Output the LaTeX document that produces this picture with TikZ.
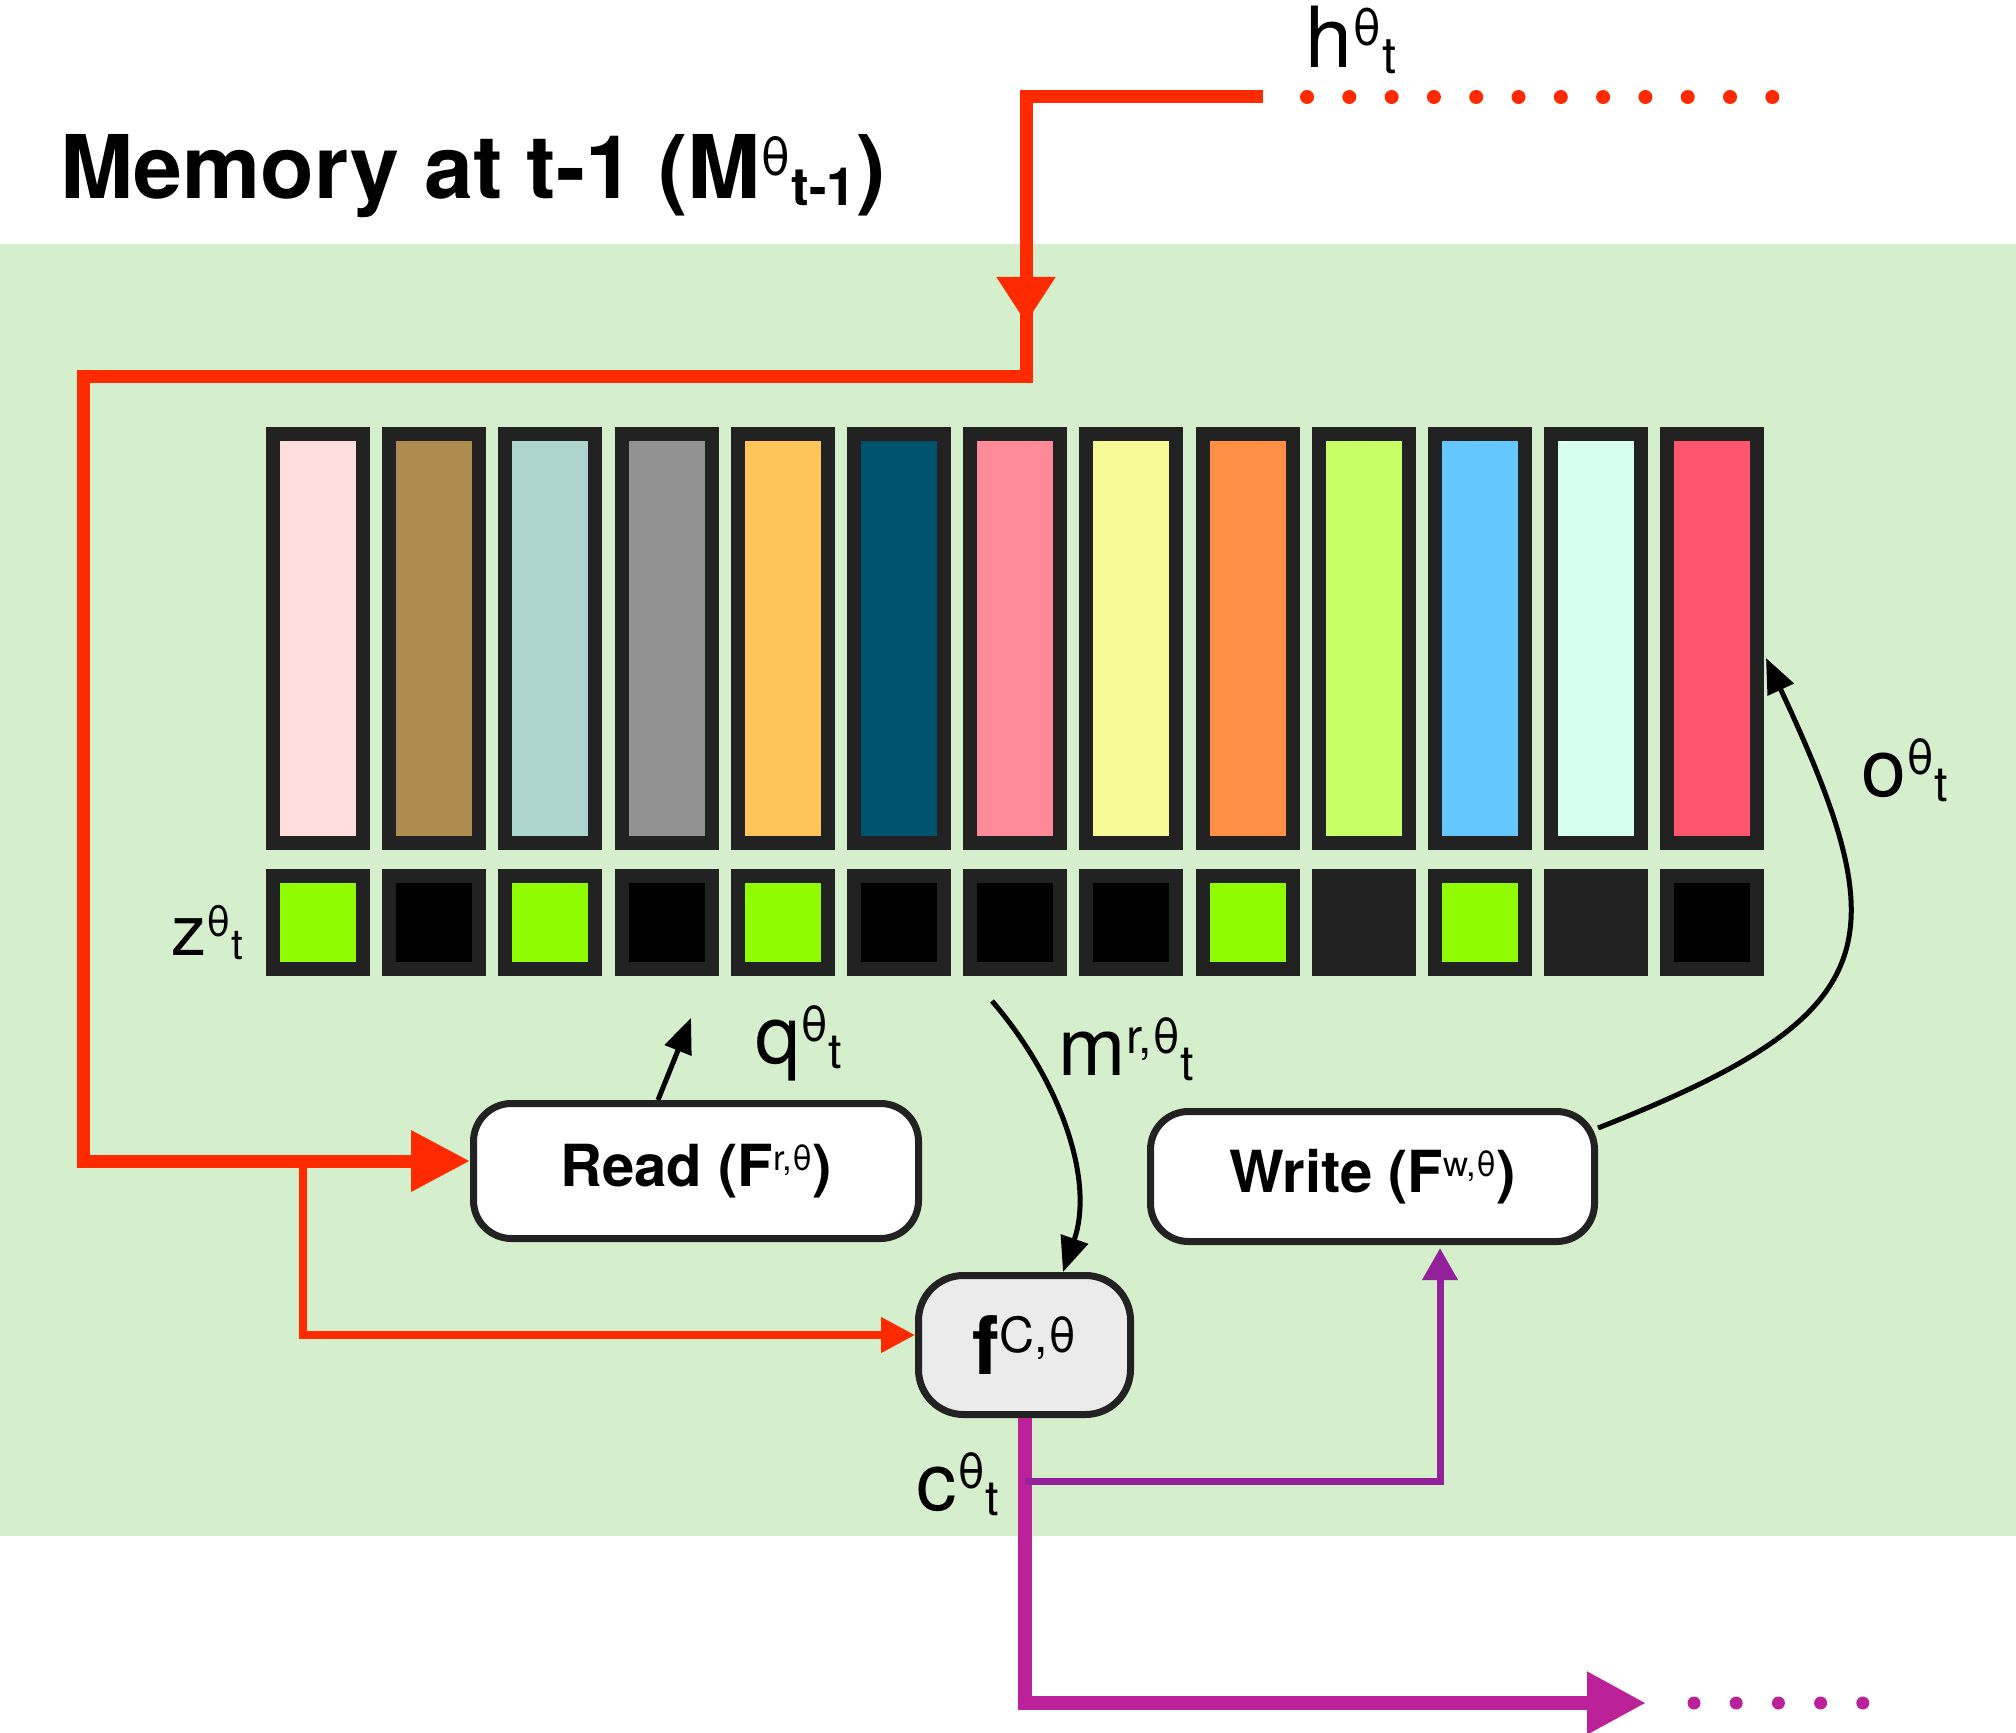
\documentclass[tikz,border=0pt]{standalone}
\usepackage{fontspec}
\setmainfont{TeX Gyre Heros}
\usetikzlibrary{arrows.meta}
\definecolor{bgmem}{HTML}{D5EFCC}
\definecolor{edge}{HTML}{222222}
\definecolor{redline}{HTML}{FF2A00}
\definecolor{purplethick}{HTML}{BB2299}
\definecolor{purplethin}{HTML}{93229A}
\definecolor{gateon}{HTML}{8FFC00}
\definecolor{fcgray}{HTML}{EBEBEB}
\definecolor{slotA}{HTML}{FFDDDD}
\definecolor{slotB}{HTML}{AE8C50}
\definecolor{slotC}{HTML}{ADD5CD}
\definecolor{slotD}{HTML}{929292}
\definecolor{slotE}{HTML}{FFC55A}
\definecolor{slotF}{HTML}{00536C}
\definecolor{slotG}{HTML}{FF8A97}
\definecolor{slotH}{HTML}{F7F994}
\definecolor{slotI}{HTML}{FF8F44}
\definecolor{slotJ}{HTML}{C7FF66}
\definecolor{slotK}{HTML}{66C7FF}
\definecolor{slotL}{HTML}{D6FFEE}
\definecolor{slotM}{HTML}{FF566E}
\newcommand{\sps}[1]{\raisebox{0.27em}{\scalebox{0.6}{#1}}}
\newcommand{\sbs}[1]{\raisebox{-0.07em}{\scalebox{0.6}{#1}}}
\begin{document}
\begin{tikzpicture}[
  slot/.style={draw=edge, line width=0.14cm, minimum width=0.9cm, minimum height=4.09cm, inner sep=0pt},
  gate/.style={draw=edge, line width=0.14cm, minimum width=0.9cm, minimum height=0.93cm, inner sep=0pt},
  op/.style={draw=edge, line width=0.07cm, fill=white, rounded corners=0.38cm, inner sep=0pt, font=\fontsize{16.5}{20}\selectfont\bfseries},
  lbl/.style={inner sep=0pt, anchor=base west, font=\fontsize{23}{27}\selectfont},
  redthick/.style={draw=redline, line width=0.13cm},
  redthin/.style={draw=redline, line width=0.075cm},
  purplebig/.style={draw=purplethick, line width=0.14cm},
  purplesmall/.style={draw=purplethin, line width=0.07cm},
  sig/.style={draw=black, line width=0.05cm, -{Triangle[length=0.35cm,width=0.28cm]}}
]
\useasboundingbox (0,0) rectangle (20.16,-17.33);
\fill[bgmem] (0,-2.44) rectangle (20.16,-15.36);
\node[inner sep=0pt, anchor=base west, font=\fontsize{25}{30}\selectfont\bfseries] (title) at (0.60,-1.99) {Memory at t-1 (M\sps{\mdseries θ}\sbs{t-1})};
\foreach \c [count=\i] in {slotA,slotB,slotC,slotD,slotE,slotF,slotG,slotH,slotI,slotJ,slotK,slotL,slotM}
  \node[slot, fill=\c] (slot\i) at ({3.18+1.162*(\i-1)},-6.385) {};
\foreach \c [count=\i] in {gateon,black,gateon,black,gateon,black,black,black,gateon,edge,gateon,edge,black}
  \node[gate, fill=\c] (gate\i) at ({3.18+1.162*(\i-1)},-9.225) {};
\node[op, minimum width=4.45cm, minimum height=1.35cm] (read) at (6.96,-11.71) {Read (F\sps{\mdseries r,θ})};
\node[op, minimum width=4.44cm, minimum height=1.30cm] (write) at (13.725,-11.765) {Write (F\sps{\mdseries w,θ})};
\node[op, fill=fcgray, minimum width=2.12cm, minimum height=1.39cm, rounded corners=0.45cm, font=\fontsize{23}{27}\selectfont\bfseries] (fc) at (10.245,-13.45) {f\sps{\mdseries C,θ}};
\node[lbl, font=\fontsize{24}{28}\selectfont] (hlab) at (13.05,-0.68) {h\sps{θ}\sbs{t}};
\node[lbl, font=\fontsize{20}{24}\selectfont] (zlab) at (1.71,-9.55) {z\sps{θ}\sbs{t}};
\node[lbl] (qlab) at (7.55,-10.63) {q\sps{θ}\sbs{t}};
\node[lbl] (mlab) at (10.58,-10.75) {m\sps{r,θ}\sbs{t}};
\node[lbl] (olab) at (18.61,-7.96) {o\sps{θ}\sbs{t}};
\node[lbl] (clab) at (9.16,-15.10) {c\sps{θ}\sbs{t}};
\coordinate (hend) at (12.63,-0.97);
\coordinate (hcorner) at (10.26,-0.97);
\coordinate (hmid) at (10.26,-3.23);
\coordinate (hjoin) at (10.26,-3.77);
\coordinate (ltop) at (0.83,-3.77);
\coordinate (lbot) at (0.83,-11.61);
\coordinate (rsplit) at (3.03,-11.61);
\coordinate (csplit) at (10.245,-14.81);
\coordinate (cout) at (16.46,-17.03);
\coordinate (win) at (14.40,-12.48);
\coordinate (qto) at (6.91,-10.18);
\coordinate (mfrom) at (9.92,-10.01);
\coordinate (oto) at (17.66,-6.58);
\draw[redthick, -{Triangle[length=0.59cm,width=0.58cm]}] (hend) -- (hcorner) -- (hjoin) -- (ltop) -- (lbot) -- (lbot -| read.west);
\draw[redthick, -{Triangle[length=0.46cm,width=0.56cm]}] (hcorner) -- (hmid);
\foreach \k in {0,...,11}
  \fill[redline] (13.07+0.423*\k,-0.97) circle (0.07);
\draw[redthin, -{Triangle[length=0.34cm,width=0.34cm]}] (rsplit) |- ([yshift=0.1cm]fc.west);
\draw[purplebig, -{Triangle[length=0.59cm,width=0.59cm]}] (fc.south) |- (cout);
\draw[purplesmall, -{Triangle[length=0.32cm,width=0.34cm]}] (csplit) -| (win);
\foreach \k in {0,...,4}
  \fill[purplethick] (16.94+0.422*\k,-17.03) circle (0.065);
\draw[sig] ([xshift=-0.38cm]read.north) -- (qto);
\draw[sig] (mfrom) .. controls (10.60,-10.80) and (10.95,-11.80) .. ([xshift=0.385cm]fc.north);
\draw[sig] ([yshift=-0.2cm]write.north east) .. controls (18.88,-10.14) and (18.99,-9.43) .. (oto);
\end{tikzpicture}
\end{document}
